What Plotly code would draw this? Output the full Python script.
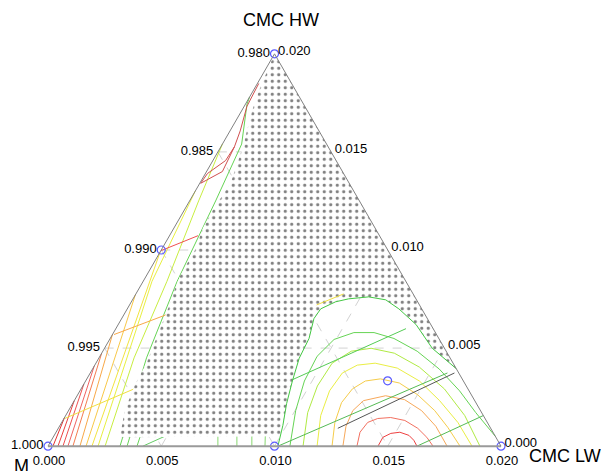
import math
import plotly.graph_objects as go

# ---- data (component amounts in thousandths of mass fraction) ----
SCALE = 0.001
SPAN = 20.0          # constrained simplex: each component spans 0.020

hw_tickvals = [0.0, 0.005, 0.010, 0.015, 0.020]
m_tickvals = [1.0, 0.995, 0.990, 0.985, 0.980]
lw_tickvals = [0.0, 0.005, 0.010, 0.015, 0.020]
left_ticktext = ["1.000", "0.995", "0.990", "0.985", "0.980"]
bottom_ticktext = ["0.000", "0.005", "0.010", "0.015", "0.020"]
right_ticktext = ["0.020", "0.015", "0.010", "0.005", "0.000"]
grid_vals = [5.0, 10.0, 15.0]

# design points
design_lw = [0.0, 0.0, 0.0, 10.0, 20.0, 13.33]
design_hw = [20.0, 10.0, 0.0, 0.0, 0.0, 3.33]

# contours fanning along the M / CMC HW edge
fan_lw = [
    [0.22, 0.0], [0.44, 0.0], [0.66, 0.0], [0.88, 0.0], [1.10, 0.0],
    [1.41, 0.0], [1.68, 0.0], [1.94, 0.0],
    [2.21, 1.25, 0.39, 0.0],
    [2.52, 1.55, 1.05, 0.40, 0.0],
    [3.18, 2.10, 1.50, 1.15, 0.85, 0.36, 0.07, 0.0],
    [3.49, 2.90], [3.93, 3.50],
]
fan_hw = [
    [0.0, 1.46], [0.0, 2.32], [0.0, 3.17], [0.0, 4.08], [0.0, 4.74],
    [0.0, 5.69], [0.0, 7.71], [0.0, 9.90],
    [0.0, 4.5, 8.4, 13.0],
    [0.0, 4.5, 8.4, 12.5, 15.4],
    [0.0, 4.5, 8.4, 12.5, 15.4, 16.68, 17.43, 17.8],
    [0.0, 2.5], [0.0, 2.0],
]
fan_colors = ["#e53030", "#ea4040", "#ee5050", "#f06262", "#f47c50",
              "#f8a848", "#f8c848", "#f2e440", "#e8f040", "#c8ee40",
              "#66d455", "#66d455", "#66d455"]

# dome of contours in the CMC LW corner (outer -> inner)
dome_lw = [
    [10.15, 9.84, 9.45, 9.13, 8.85, 8.78, 8.49, 8.54, 9.02, 9.52, 10.35, 11.18, 11.99, 13.15, 14.47, 16.05],
    [10.68, 10.03, 9.66, 9.59, 9.91, 10.61, 11.50, 12.53, 13.88, 15.31, 16.76, 18.03, 19.50],
    [11.26, 10.61, 10.36, 10.43, 10.97, 11.77, 12.92, 14.38, 16.04, 17.62, 19.07],
    [11.88, 11.26, 11.02, 11.13, 11.59, 12.33, 13.43, 14.74, 16.13, 17.49, 18.72],
    [12.54, 12.06, 11.85, 11.98, 12.35, 12.96, 13.90, 15.01, 16.17, 17.17, 18.19],
    [13.02, 12.65, 12.55, 12.77, 13.62, 14.56, 15.59, 16.62, 17.62],
    [13.64, 13.42, 13.51, 13.85, 14.40, 15.10, 15.87, 16.50, 17.00],
    [14.57, 14.56, 14.81, 15.18, 15.66, 16.00, 16.29],
]
dome_hw = [
    [0.0, 1.06, 2.17, 3.32, 4.48, 5.49, 6.50, 7.00, 7.36, 7.51, 7.61, 7.46, 7.00, 6.20, 4.99, 3.95],
    [0.0, 1.81, 3.32, 4.58, 5.44, 5.79, 5.79, 5.49, 4.84, 3.93, 2.82, 1.71, 0.50],
    [0.0, 1.71, 3.07, 4.23, 4.84, 4.99, 4.74, 4.03, 2.92, 1.56, 0.0],
    [0.0, 1.56, 2.82, 3.73, 4.13, 4.23, 3.98, 3.32, 2.32, 1.21, 0.0],
    [0.0, 1.21, 2.22, 2.92, 3.32, 3.43, 3.22, 2.62, 1.81, 0.96, 0.0],
    [0.0, 1.01, 1.81, 2.32, 2.57, 2.37, 1.81, 1.01, 0.0],
    [0.0, 0.71, 1.21, 1.41, 1.46, 1.31, 0.91, 0.45, 0.0],
    [0.0, 0.45, 0.65, 0.71, 0.55, 0.30, 0.0],
]
dome_colors = ["#44c844", "#66d455", "#b0ea44", "#eaee44", "#f5cc4a",
               "#f7a85a", "#f27060", "#ee4040"]

# straight contour segments
seg_lw = [
    [9.00, 12.81], [10.15, 15.77], [12.34, 16.08], [16.29, 18.44],
    [0.07, 1.96], [0.03, 2.42], [0.01, 1.26], [4.19, 4.97],
    [7.50, 7.10], [8.34, 7.94], [9.00, 8.60], [9.58, 9.20],
]
seg_hw = [
    [3.32, 5.99], [0.0, 3.73], [0.91, 3.73], [0.0, 1.56],
    [5.69, 6.75], [1.41, 2.97], [9.97, 10.73], [0.0, 0.55],
    [0.0, 0.8], [0.0, 0.8], [0.0, 0.8], [0.0, 0.8],
]
seg_colors = ["#55cc55", "#55bb55", "#555555", "#55bb55",
              "#f8a848", "#f0e040", "#f05050", "#66cc66",
              "#88d870", "#88d870", "#88d870", "#88d870"]

# lines drawn over the shaded region
top_lw = [[0.06, 0.12, 0.45, 0.60, 0.56, 0.09, 0.04], [0.04, 0.70, 0.60],
          [8.26, 9.17]]
top_hw = [[18.49, 17.33, 16.07, 15.26, 14.56, 13.90, 13.40], [13.40, 14.00, 15.26],
          [7.20, 7.76]]
top_colors = ["#d05050", "#d05050", "#f0e040"]

# region outside the acceptable window (dotted)
dots_lw = [0.0, 16.05, 14.47, 13.15, 11.99, 11.18, 10.35, 9.52, 9.02, 8.54, 8.49, 8.78,
           8.85, 9.13, 9.45, 9.84, 10.12, 2.95, 2.48, 2.28, 2.22, 1.98, 1.78, 1.62,
           1.49, 1.49, 1.28, 1.26, 1.36, 1.00, 0.47, 0.26, 0.0]
dots_hw = [20.0, 3.95, 4.99, 6.20, 7.00, 7.46, 7.61, 7.51, 7.36, 7.00, 6.50, 5.49,
           4.48, 3.32, 2.17, 1.06, 0.50, 0.45, 1.81, 3.07, 4.33, 5.84, 7.10, 7.86,
           8.72, 10.03, 11.13, 12.04, 13.40, 15.16, 17.08, 18.09, 20.0]

H3 = math.sqrt(3) / 2


def to_xy(lw, hw):
    """barycentric (within the constrained simplex) -> planar triangle coords"""
    ap = [h / SPAN for h in hw]
    cp = [l / SPAN for l in lw]
    return [c + a / 2 for a, c in zip(ap, cp)], [a * H3 for a in ap]


fig = go.Figure()


def add_line(lw, hw, color, width=1.0, dash=None):
    x, y = to_xy(lw, hw)
    fig.add_trace(go.Scatter(x=x, y=y, mode="lines",
                             line=dict(color=color, width=width, dash=dash),
                             hoverinfo="skip"))


# dashed grid
for g in grid_vals:
    add_line([0.0, SPAN - g], [g, g], "#d2d2d2", 1, "dash")
    add_line([g, g], [0.0, SPAN - g], "#d2d2d2", 1, "dash")
    add_line([0.0, g], [g, 0.0], "#d2d2d2", 1, "dash")

for lw, hw, col in zip(fan_lw, fan_hw, fan_colors):
    add_line(lw, hw, col)
for lw, hw, col in zip(dome_lw[1:], dome_hw[1:], dome_colors[1:]):
    add_line(lw, hw, col)
for lw, hw, col in zip(seg_lw, seg_hw, seg_colors):
    add_line(lw, hw, col)

x, y = to_xy(dots_lw, dots_hw)
fig.add_trace(go.Scatter(
    x=x, y=y, mode="lines", fill="toself", fillcolor="white",
    line=dict(width=0, color="rgba(0,0,0,0)"),
    fillpattern=dict(shape=".", fgcolor="black", bgcolor="white", size=6.5, solidity=0.19),
    hoverinfo="skip"))

add_line(dome_lw[0], dome_hw[0], dome_colors[0])
for lw, hw, col in zip(top_lw, top_hw, top_colors):
    add_line(lw, hw, col)

# design points on the ternary axes themselves
da = [h * SCALE for h in design_hw]
dc = [l * SCALE for l in design_lw]
db = [1.0 - p - q for p, q in zip(da, dc)]
fig.add_trace(go.Scatterternary(
    a=da, b=db, c=dc, mode="markers",
    marker=dict(symbol="circle-open", size=8, color="#5a5aff", line=dict(width=1.2)),
    cliponaxis=False, hoverinfo="skip"))

axis_common = dict(tickmode="array", showgrid=False, ticks="outside", ticklen=2,
                   tickcolor="rgba(0,0,0,0)",
                   tickfont=dict(size=13, color="black"), title=dict(text=""))

fig.update_layout(
    width=609, height=471,
    margin=dict(l=40, r=116, t=44, b=31),
    paper_bgcolor="white", plot_bgcolor="rgba(0,0,0,0)", showlegend=False,
    font=dict(family="Liberation Sans, Arial, sans-serif", size=13, color="black"),
    xaxis=dict(range=[0, 1], visible=False, domain=[0, 1], fixedrange=True),
    yaxis=dict(range=[0, H3], visible=False, domain=[0, 1], scaleanchor="x",
               scaleratio=1, fixedrange=True),
    ternary=dict(
        sum=1, bgcolor="rgba(0,0,0,0)", domain=dict(x=[0, 1], y=[0, 1]),
        aaxis=dict(min=0.0, tickvals=hw_tickvals, ticktext=left_ticktext,
                   linecolor="#808080", linewidth=1, **axis_common),
        baxis=dict(min=0.98, tickvals=m_tickvals, ticktext=bottom_ticktext,
                   linecolor="#9a9a9a", linewidth=2, **axis_common),
        caxis=dict(min=0.0, tickvals=lw_tickvals, ticktext=right_ticktext,
                   linecolor="#808080", linewidth=1, **axis_common),
    ),
    annotations=[
        dict(text="CMC HW", x=0.515, y=1.081, xref="paper", yref="paper",
             xanchor="center", yanchor="middle", showarrow=False, font=dict(size=18)),
        dict(text="CMC LW", x=1.226, y=-0.020, xref="paper", yref="paper",
             xanchor="right", yanchor="middle", showarrow=False, font=dict(size=18)),
        dict(text="M", x=-0.0574, y=-0.0455, xref="paper", yref="paper",
             xanchor="center", yanchor="middle", showarrow=False, font=dict(size=18)),
    ],
)

fig.write_html("out.html")
